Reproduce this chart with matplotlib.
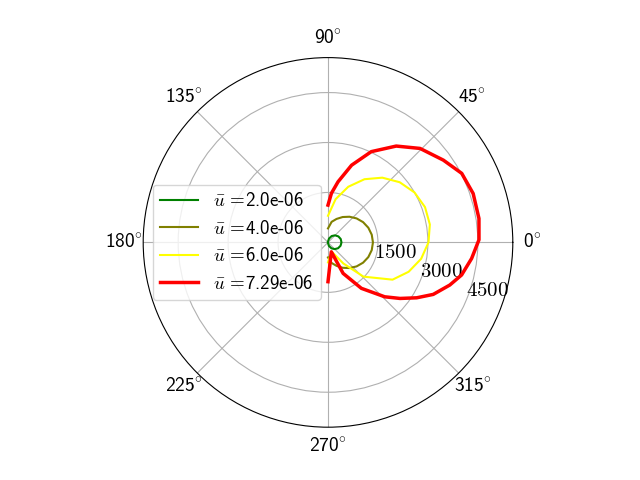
import numpy as np
import matplotlib
matplotlib.use("Agg")
from matplotlib import pyplot as plt
from matplotlib.ticker import FuncFormatter

plt.rcParams['font.family'] = ['cmss10', 'DejaVu Sans']
plt.rcParams['mathtext.fontset'] = 'cm'
plt.rcParams['axes.unicode_minus'] = False
plt.rcParams['font.size'] = 14

# curves: angle (deg) and radius
th_green = [-90, -75, -60, -45, -30, -15, 0, 15, 30, 45, 60, 75, 90]
r_green = [20, 110, 205, 285, 350, 390, 405, 395, 360, 300, 220, 120, 25]

th_olive = [-90, -80, -70, -60, -50, -40, -30, -20, -10, 0, 10, 20, 30, 40, 50, 60, 70, 80, 90]
r_olive = [450, 627, 750, 880, 1006, 1121, 1217, 1289, 1334, 1350, 1334, 1289, 1217, 1121,
           1006, 880, 750, 627, 420]

th_yellow = [-90, -68, -54, -44, -30, -20, -10, 0, 10, 20, 30, 40, 50, 60, 70, 80, 90]
r_yellow = [600, 300, 780, 1480, 2238, 2578, 2840, 3018, 3106, 3100, 3000, 2811, 2538, 2191,
            1778, 1319, 800]

th_red = [-90, -70.5, -64, -54, -43.8, -37.9, -32, -26.3, -19.3, -13.7, -6.4, 1, 9, 18.6,
          27.3, 35.5, 45.6, 54.7, 64.5, 73, 80.6, 86, 90]
r_red = [1180, 300, 1035, 1705, 2360, 2740, 3140, 3525, 3875, 4130, 4340, 4535, 4590, 4600,
         4520, 4255, 3950, 3545, 3020, 2425, 1845, 1480, 1120]

labels = [r'$\bar{u}\,=\!$2.0e-06', r'$\bar{u}\,=\!$4.0e-06',
          r'$\bar{u}\,=\!$6.0e-06', r'$\bar{u}\,=\!$7.29e-06']
r_ticks = [1500, 3000, 4500]

fig = plt.figure(figsize=(6.4, 4.8), dpi=100)
ax = fig.add_subplot(111, projection='polar')

ax.plot(np.radians(th_green), r_green, color='green', lw=1.5, label=labels[0])
ax.plot(np.radians(th_olive), r_olive, color='olive', lw=1.5, label=labels[1])
ax.plot(np.radians(th_yellow), r_yellow, color='yellow', lw=1.5, label=labels[2])
ax.plot(np.radians(th_red), r_red, color='red', lw=2.5, label=labels[3])

ax.set_rmax(5550)
ax.set_rticks(r_ticks)
ax.yaxis.set_major_formatter(FuncFormatter(lambda v, p: r'$%d$' % v))
ax.xaxis.set_major_formatter(
    FuncFormatter(lambda v, p: r'%d$\!^\circ$' % round(np.degrees(v))))
ax.set_rlabel_position(-22.5)
ax.tick_params(axis='y', labelsize=15)
ax.tick_params(axis='x', labelsize=14)
ax.grid(True)

ax.legend(loc='center left', fontsize=13.6)

fig.savefig('out.png')
